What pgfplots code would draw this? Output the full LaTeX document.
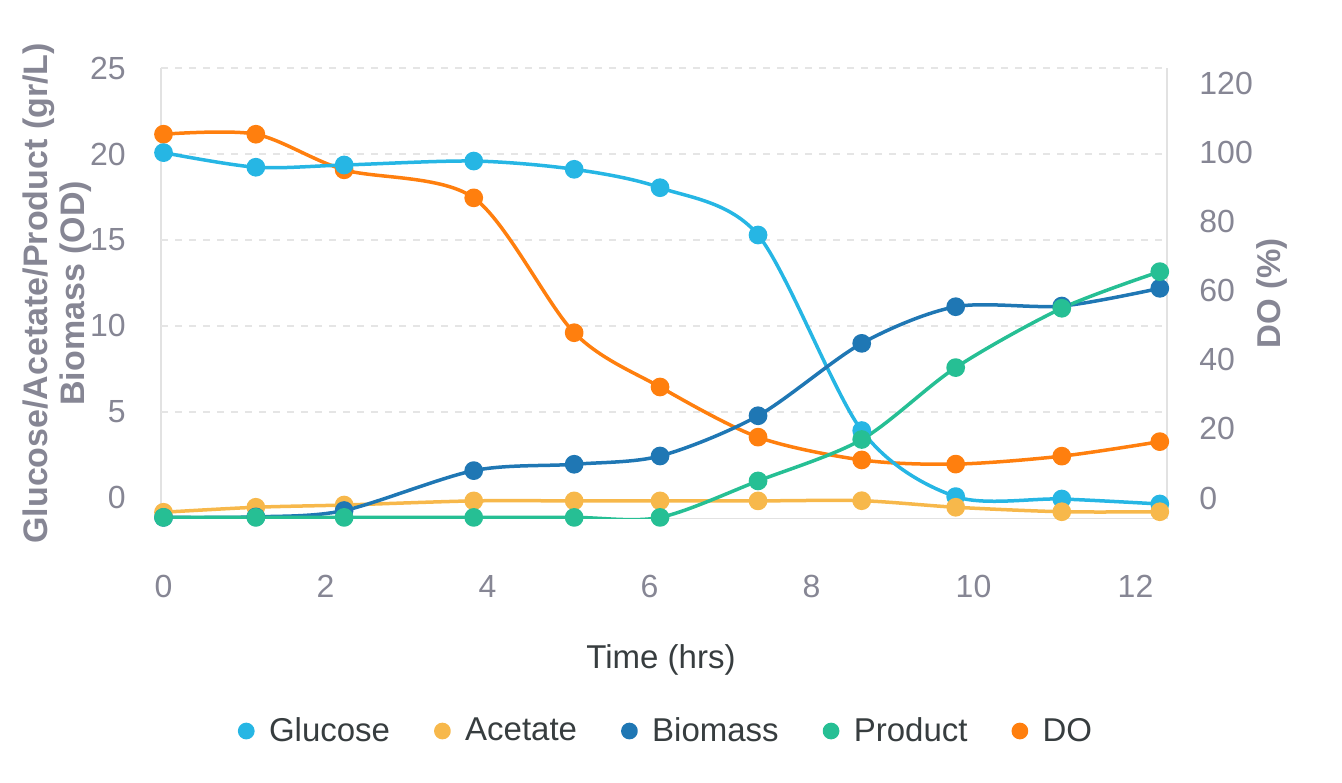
\documentclass[border=0pt]{standalone}
\usepackage{pgfplots}
\usepackage{pgfplotstable}
\pgfplotsset{compat=1.18}
\usepackage{fontspec}
\setmainfont{Liberation Sans}
\definecolor{cGlu}{RGB}{38,182,228}
\definecolor{cAce}{RGB}{247,184,75}
\definecolor{cBio}{RGB}{31,119,180}
\definecolor{cPro}{RGB}{38,191,148}
\definecolor{cDO}{RGB}{255,127,14}
\definecolor{cGrid}{RGB}{229,229,229}
\definecolor{cAxis}{RGB}{226,226,226}
\definecolor{cTick}{RGB}{134,134,148}
\definecolor{cText}{RGB}{55,61,63}

\pgfplotstableread{
t     glu    ace    bio    pro    do
0     20.08  -0.83  -1.13  -1.13  105.2
1.14  19.23  -0.54  -1.10  -1.13  105.2
2.23  19.36  -0.41  -0.73  -1.13  94.9
3.83  19.59  -0.17   1.59  -1.13  86.8
5.07  19.11  -0.17   1.96  -1.13  47.8
6.13  18.04  -0.17   2.44  -1.13  32.1
7.34  15.29  -0.17   4.78   0.99  17.6
8.62   3.92  -0.16   8.99   3.40  11.0
9.78   0.08  -0.54  11.12   7.58   9.8
11.09 -0.06  -0.80  11.16  11.03  12.1
12.30 -0.35  -0.80  12.19  13.16  16.3
}\datatable

\pgfplotsset{
  base/.style={scale only axis, width=503pt, height=225.3pt,
    xmin=-0.031, xmax=12.389, at={(0pt,0pt)}, anchor=south west},
  ser/.style={color=#1, line width=1.75pt, smooth, mark=*, mark size=3.8pt,
    mark options={solid}, line join=round},
  tlab/.style={font=\fontsize{16}{19}\selectfont, text=cTick, inner sep=0pt},
}

\begin{document}
\begin{tikzpicture}
\path[use as bounding box] (-80.5pt,-131.7pt) rectangle (590.5pt,259.3pt);
% left frame, grid and labels
\begin{axis}[base, ymin=-1.2, ymax=25,
  axis x line*=bottom, axis y line*=left,
  axis line style={draw=cAxis, line width=0.8pt},
  xtick={0,2,...,12}, ytick={0,5,...,25},
  extra y ticks={5,10,...,25}, extra y tick labels={},
  extra y tick style={grid=major},
  grid style={draw=cGrid, line width=0.8pt, dash pattern=on 3.5pt off 3.5pt},
  major tick length=0pt, tick style={draw=none},
  tick label style={tlab},
  xticklabel style={anchor=center, yshift=-33.7pt},
  yticklabel style={anchor=east, xshift=-17.5pt},
  /pgf/number format/assume math mode=true,
  xlabel={Time (hrs)},
  xlabel style={at={(axis description cs:0.497,-0.3138)}, anchor=center,
    font=\fontsize{16.5}{19}\selectfont, text=cText},
  ylabel={Glucose/Acetate/Product (gr/L)\\Biomass (OD)},
  ylabel style={at={(axis description cs:-0.103,0.5)}, anchor=center, align=center,
    font=\fontsize{17}{18.5}\selectfont\bfseries, text=cTick},
]
\end{axis}
% right axis: DO
\begin{axis}[base, ymin=-5.96, ymax=124.35,
  axis x line=none, axis y line*=right,
  axis line style={draw=cAxis, line width=0.8pt},
  ytick={0,20,...,120},
  major tick length=0pt, tick style={draw=none},
  tick label style={tlab},
  yticklabel style={anchor=west, xshift=16pt},
  /pgf/number format/assume math mode=true,
  ylabel={DO (\%)},
  ylabel style={at={(axis description cs:1.1044,0.5)}, anchor=center,
    font=\fontsize{16.5}{19}\selectfont\bfseries, text=cTick},
]
\addplot[ser=cDO] table[x=t,y=do]{\datatable};
\end{axis}
% left series
\begin{axis}[base, ymin=-1.2, ymax=25, hide axis,
  legend columns=-1,
  legend style={at={(axis description cs:0.503,-0.4714)}, anchor=center,
    draw=none, fill=none, font=\fontsize{16.5}{19}\selectfont,
    nodes={text=cText},
    /tikz/every even column/.append style={column sep=20pt}},
  legend image code/.code={\fill (0pt,0pt) circle (3.3pt); \path (8.5pt,0pt);},
]
\addplot[ser=cGlu] table[x=t,y=glu]{\datatable};
\addlegendentry{Glucose}
\addplot[ser=cAce] table[x=t,y=ace]{\datatable};
\addlegendentry{Acetate}
\addplot[ser=cBio] table[x=t,y=bio]{\datatable};
\addlegendentry{Biomass}
\addplot[ser=cPro] table[x=t,y=pro]{\datatable};
\addlegendentry{Product}
\addlegendimage{ser=cDO}
\addlegendentry{DO}
\end{axis}
\end{tikzpicture}
\end{document}
